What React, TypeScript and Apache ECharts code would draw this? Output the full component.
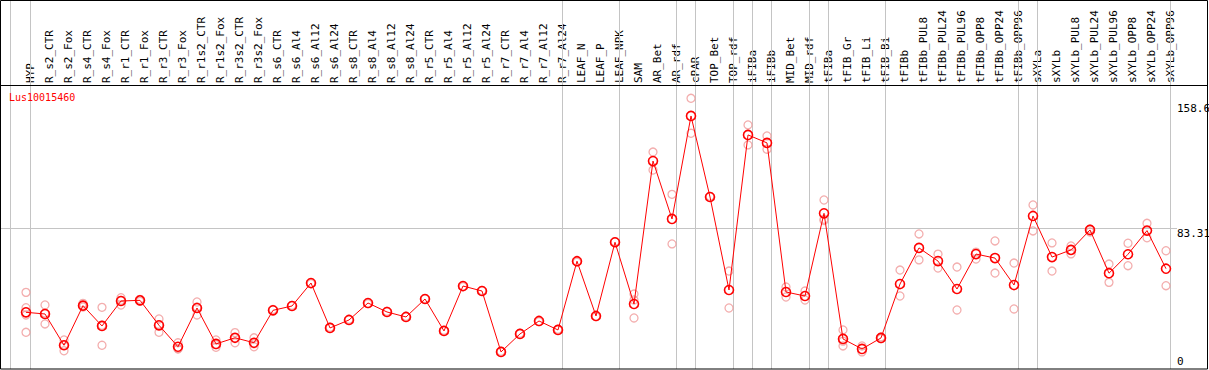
import React, { useEffect, useRef } from "react";
import * as echarts from "echarts";

const chartTitle = "Lus10015460";

const categories = [
  "HYP", "R_s2_CTR", "R_s2_Fox", "R_s4_CTR", "R_s4_Fox", "R_r1_CTR", "R_r1_Fox",
  "R_r3_CTR", "R_r3_Fox", "R_r1s2_CTR", "R_r1s2_Fox", "R_r3s2_CTR", "R_r3s2_Fox",
  "R_s6_CTR", "R_s6_Al4", "R_s6_Al12", "R_s6_Al24", "R_s8_CTR", "R_s8_Al4",
  "R_s8_Al12", "R_s8_Al24", "R_r5_CTR", "R_r5_Al4", "R_r5_Al12", "R_r5_Al24",
  "R_r7_CTR", "R_r7_Al4", "R_r7_Al12", "R_r7_Al24", "LEAF_N", "LEAF_P", "LEAF_NPK",
  "SAM", "AR_Bet", "AR_rdf", "cPAR", "TOP_Bet", "TOP_rdf", "iFIBa", "iFIBb",
  "MID_Bet", "MID_rdf", "tFIBa", "tFIB_Gr", "tFIB_Li", "tFIB_Bi", "tFIBb",
  "tFIBb_PUL8", "tFIBb_PUL24", "tFIBb_PUL96", "tFIBb_OPP8", "tFIBb_OPP24",
  "tFIBb_OPP96", "sXYLa", "sXYLb", "sXYLb_PUL8", "sXYLb_PUL24", "sXYLb_PUL96",
  "sXYLb_OPP8", "sXYLb_OPP24", "sXYLb_OPP96",
];

const means = [
  32.8, 31.8, 13.0, 36.8, 24.6, 39.6, 40.0, 25.0, 12.1, 35.4, 13.8, 17.5, 14.5,
  34.0, 36.6, 50.4, 23.4, 28.2, 38.4, 33.0, 30.0, 40.8, 21.6, 48.6, 45.6,
  9.0, 19.8, 27.6, 22.2, 63.5, 30.6, 74.9,
  37.8, 123.7, 88.9, 150.8, 102.1, 46.2, 139.4, 134.6,
  45.0, 42.6, 92.3, 16.8, 10.8, 17.4, 49.8,
  71.5, 63.6, 46.8, 67.8, 65.4, 49.2,
  90.7, 66.0, 70.3, 82.3, 56.3, 67.7, 81.9, 59.0,
];

const replicates: number[][] = [
  [44.8, 35.6, 31.2, 20.8], [37.2, 25.8, 32.4], [16.2, 9.7, 13.2], [38.2, 36.0, 37.0],
  [35.8, 13.0, 25.0], [41.6, 37.2, 40.0], [40.6, 39.4], [28.8, 20.8, 25.4],
  [14.5, 10.8, 11.0], [39.0, 31.2, 36.0], [16.2, 11.8, 13.4], [20.6, 14.5, 17.4],
  [17.5, 12.1, 14.0],
  [34.5], [37.0], [50.0], [23.8], [28.5], [38.0], [33.4], [30.4], [41.0], [21.9], [48.2], [45.9],
  [9.4], [20.2], [27.2], [22.6], [63.0], [30.2], [75.2],
  [43.8, 29.4, 40.2], [129.1, 118.3], [103.7, 73.9], [161.4, 140.4], [102.5],
  [57.6, 35.4], [145.4, 133.4], [138.8, 130.8],
  [48.0, 42.0], [45.6, 40.2], [100.3, 88.7, 88.0], [22.2, 12.6, 15.5], [12.6, 9.0],
  [18.0, 17.0], [58.2, 42.6],
  [79.9, 64.3], [67.8, 59.4], [60.0, 34.2], [69.0, 64.8], [75.7, 56.4], [62.4, 34.8],
  [97.3, 81.7], [74.5, 57.6], [72.7, 67.9], [82.9, 81.1], [61.8, 50.8],
  [74.3, 60.8], [86.3, 77.6], [69.8, 48.8],
];

const tickValues = [0, 83.31, 158.6];
const tickLabels = ["0", "83.31", "158.6"];
const referenceValue = 83.31;

const groupEnds = [0, 28, 31, 34, 35, 37, 38, 39, 41, 42, 45, 52, 53, 60];

const MONO = "'DejaVu Sans Mono', 'Liberation Mono', monospace";
const GRAY = "#c4c4c4";
const LABEL_SHIFT = 4;

export default function App() {
  const ref = useRef<HTMLDivElement>(null);

  useEffect(() => {
    if (!ref.current) return;
    const chart = echarts.init(ref.current, null, { renderer: "svg" });
    const scatterData: number[][] = [];
    replicates.forEach((reps, i) => reps.forEach((v) => scatterData.push([i, v])));

    const labelStyle = {
      interval: 0,
      rotate: 90,
      margin: 3,
      color: "#000",
      fontSize: 11,
      fontFamily: MONO,
    };

    chart.setOption({
      animation: false,
      backgroundColor: "#ffffff",
      title: {
        text: chartTitle,
        left: 9,
        top: 92,
        padding: 0,
        textStyle: { color: "#ff0000", fontSize: 10, fontWeight: "normal", fontFamily: MONO },
      },
      grid: [
        { left: 16.5, width: 1159, top: 86, height: 280.9, containLabel: false },
        { left: 16.5 + LABEL_SHIFT, width: 1159, top: 86, height: 280.9, containLabel: false },
      ],
      xAxis: [
        {
          type: "category",
          gridIndex: 0,
          position: "top",
          data: categories,
          boundaryGap: true,
          axisLine: { show: false },
          axisTick: { show: false },
          splitLine: { show: false },
          axisLabel: { show: false },
        },
        {
          type: "category",
          gridIndex: 1,
          position: "top",
          data: categories,
          boundaryGap: true,
          axisLine: { show: false },
          axisTick: { show: false },
          splitLine: { show: false },
          axisLabel: labelStyle,
        },
      ],
      yAxis: [
        { type: "value", gridIndex: 0, min: 0, max: 168.8, show: false, splitLine: { show: false } },
        { type: "value", gridIndex: 1, min: 0, max: 168.8, show: false, splitLine: { show: false } },
      ],
      series: [
        {
          type: "scatter",
          xAxisIndex: 0,
          yAxisIndex: 0,
          data: scatterData,
          symbol: "circle",
          symbolSize: 8,
          itemStyle: { color: "rgba(0,0,0,0)", borderColor: "#f09a9a", borderWidth: 1.3 },
          z: 2,
        },
        {
          type: "line",
          xAxisIndex: 0,
          yAxisIndex: 0,
          data: means,
          symbol: "circle",
          symbolSize: 9,
          showAllSymbol: true,
          lineStyle: { color: "#ff0000", width: 1 },
          itemStyle: { color: "rgba(0,0,0,0)", borderColor: "#ff0000", borderWidth: 1.6 },
          z: 3,
        },
      ],
    });

    const xPix = (i: number) => chart.convertToPixel({ xAxisIndex: 0 }, i) as number;
    const yPix = (v: number) => chart.convertToPixel({ yAxisIndex: 0 }, v) as number;
    const crisp = (x: number) => Math.round(x - 0.5) + 0.5;

    const graphics: any[] = [];
    const sepXs = [xPix(0) - 15.5, ...groupEnds.map((i) => xPix(i) + 4.5)];
    sepXs.forEach((x) => {
      graphics.push({
        type: "line",
        z: 1,
        shape: { x1: crisp(x), y1: 0, x2: crisp(x), y2: 369 },
        style: { stroke: GRAY, lineWidth: 1 },
      });
    });
    const yr = crisp(yPix(referenceValue));
    graphics.push({
      type: "line",
      z: 1,
      shape: { x1: 0, y1: yr, x2: 1177, y2: yr },
      style: { stroke: GRAY, lineWidth: 1 },
    });
    graphics.push({
      type: "line",
      z: 5,
      shape: { x1: 0, y1: 85.5, x2: 1208, y2: 85.5 },
      style: { stroke: "#000", lineWidth: 1 },
    });
    graphics.push({
      type: "rect",
      z: 5,
      shape: { x: 0.5, y: 0.5, width: 1207, height: 368.5 },
      style: { stroke: "#000", fill: "none", lineWidth: 1 },
    });
    tickValues.forEach((v, k) => {
      graphics.push({
        type: "text",
        z: 6,
        x: 1177,
        y: yPix(v),
        style: {
          text: tickLabels[k],
          fill: "#000",
          font: `11px ${MONO}`,
          textAlign: "left",
          verticalAlign: k === 0 ? "bottom" : "top",
        },
      });
    });
    chart.setOption({ graphic: graphics });

    return () => chart.dispose();
  }, []);

  return (
    <div ref={ref} style={{ position: "absolute", left: 0, top: 0, width: 1209, height: 370 }} />
  );
}
